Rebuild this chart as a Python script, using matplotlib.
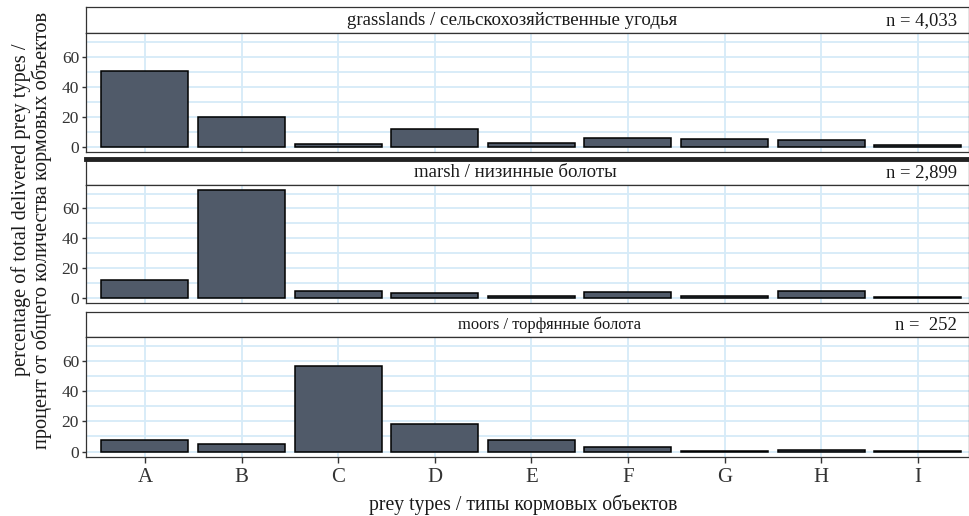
import matplotlib.pyplot as plt
import numpy as np

plt.rcParams['font.family'] = ['Liberation Serif', 'DejaVu Serif']

prey_types = ['A', 'B', 'C', 'D', 'E', 'F', 'G', 'H', 'I']
grasslands = [50.5, 19.6, 1.8, 11.8, 2.2, 6.0, 5.3, 4.7, 1.1]
marsh = [11.6, 72.2, 4.4, 3.3, 0.9, 3.8, 1.3, 4.4, 0.4]
moors = [7.9, 4.7, 56.3, 18.2, 7.4, 2.7, 0.2, 1.2, 0.4]

habitats = ['grasslands / сельскохозяйственные угодья',
            'marsh / низинные болоты',
            'moors / торфянные болота']
n_labels = ['n = 4,033', 'n = 2,899', 'n =  252']
series = [grasslands, marsh, moors]

W, H = 970, 516
BAR = '#505a69'
GRID = '#d6ebf8'
FRAME = '#333333'

fig = plt.figure(figsize=(W / 100, H / 100), dpi=100)

def box(x0, y0, x1, y1):
    # pixel box (top-left origin) -> figure fraction rect
    return [x0 / W, 1 - y1 / H, (x1 - x0) / W, (y1 - y0) / H]

# (strip top, strip bottom / plot top, plot bottom)
rows = [(7, 33, 152), (159, 185, 303), (312, 337, 457)]
title_x = [512, 515, 550]
title_size = [13.6, 13.6, 11.9]
x0, x1 = 86, 969
ymax = max(max(s) for s in series)
pad = ymax * 0.05
xpos = np.arange(len(prey_types))

for i, (st, sb, pb) in enumerate(rows):
    strip = fig.add_axes(box(x0, st, x1, sb))
    strip.set_xticks([])
    strip.set_yticks([])
    for sp in strip.spines.values():
        sp.set_color(FRAME)
        sp.set_linewidth(0.9)
    if i == 1:
        strip.spines['top'].set_linewidth(3.5)
        strip.spines['top'].set_color('#222222')
    strip.text((title_x[i] - x0) / (x1 - x0), 0.48, habitats[i],
               ha='center', va='center', fontsize=title_size[i],
               color='#1a1a1a', transform=strip.transAxes)
    strip.text((957 - x0) / (x1 - x0), 0.48, n_labels[i], ha='right',
               va='center', fontsize=13.4, color='#1a1a1a',
               transform=strip.transAxes)

    ax = fig.add_axes(box(x0, sb, x1, pb))
    ax.bar(xpos, series[i], width=0.9, color=BAR, edgecolor='black',
           linewidth=1.1, zorder=3)
    ax.set_xlim(-0.61, len(prey_types) - 0.47)
    ax.set_ylim(-pad, ymax + pad)
    ax.set_yticks([0, 20, 40, 60])
    ax.set_yticks([10, 30, 50, 70], minor=True)
    ax.set_xticks(xpos)
    ax.grid(True, which='both', color=GRID, linewidth=1.3, zorder=0)
    ax.tick_params(axis='y', which='major', labelsize=12.5, length=3,
                   width=1, color=FRAME, labelcolor='#333333', pad=2)
    ax.tick_params(axis='y', which='minor', length=0)
    if i == 2:
        ax.set_xticklabels(prey_types)
        ax.tick_params(axis='x', labelsize=15, length=4, width=1,
                       color=FRAME, labelcolor='#333333', pad=4)
    else:
        ax.set_xticklabels([])
        ax.tick_params(axis='x', length=0)
    for sp in ax.spines.values():
        sp.set_color(FRAME)
        sp.set_linewidth(0.9)

fig.text(21 / W, 1 - 210 / H, 'percentage of total delivered prey types /',
         rotation=90, ha='center', va='center', fontsize=14.7, color='#1a1a1a')
fig.text(42 / W, 1 - 230 / H, 'процент от общего количества кормовых объектов',
         rotation=90, ha='center', va='center', fontsize=14.7, color='#1a1a1a')
fig.text(523 / W, 1 - 505 / H, 'prey types / типы кормовых объектов',
         ha='center', va='center', fontsize=14.2, color='#1a1a1a')

fig.savefig('out.png', dpi=100)
